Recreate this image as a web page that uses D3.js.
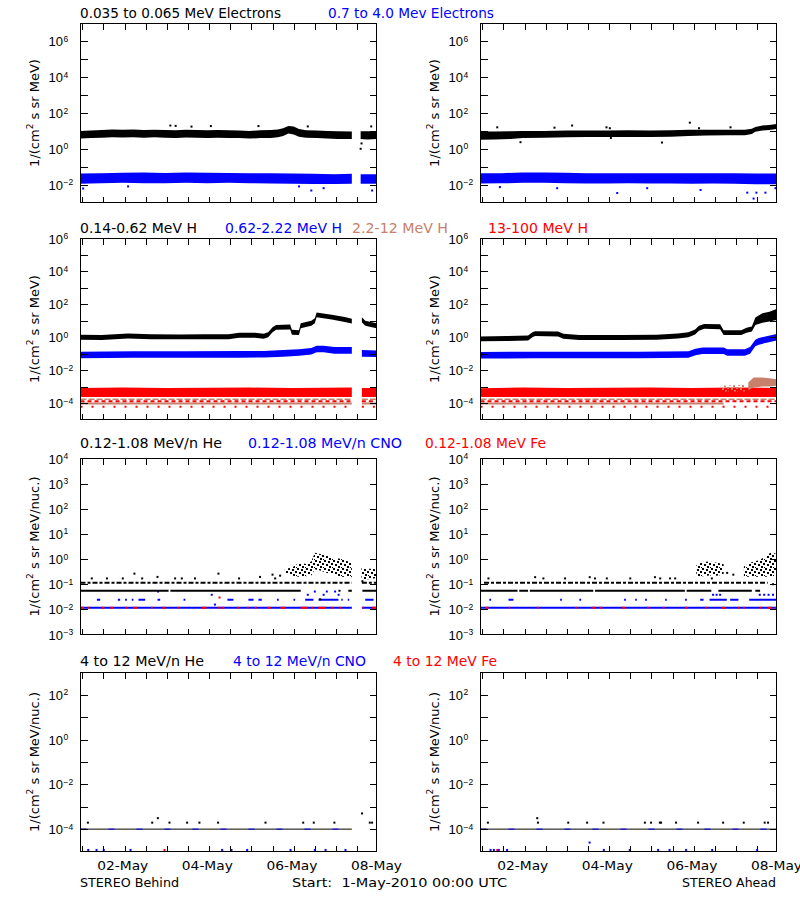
<!DOCTYPE html>
<html><head><meta charset="utf-8">
<script src="https://cdn.jsdelivr.net/npm/d3@7"></script>
<style>
body{margin:0;background:#fff}
svg{display:block}
text{font-family:"DejaVu Sans",sans-serif;white-space:pre}
.tl{font-family:"Liberation Sans",Arial,sans-serif}
</style>
</head><body><svg id="c" width="800" height="900"></svg>
<script>
// ================= DATA (hours since 1-May-2010 00:00 UTC, log10 flux) =================
const startDate = Date.UTC(2010, 4, 1);
const endDate = Date.UTC(2010, 4, 8);
const dateTickLabels = ["02-May", "04-May", "06-May", "08-May"];
const yDomains = [[-3, 7], [-5, 6], [-3, 4], [-5, 3]];
const yTickLabels = [[6, 4, 2, 0, -2], [6, 4, 2, 0, -2, -4], [4, 3, 2, 1, 0, -1, -2, -3], [2, 0, -2, -4]];
const yTitles = ["1/(cm|2| s sr MeV)", "1/(cm|2| s sr MeV)", "1/(cm|2| s sr MeV/nuc.)", "1/(cm|2| s sr MeV/nuc.)"];
const rowTitles = [
  ["0.035 to 0.065 MeV Electrons", "0.7 to 4.0 Mev Electrons"],
  ["0.14-0.62 MeV H", "0.62-2.22 MeV H", "2.2-12 MeV H", "13-100 MeV H"],
  ["0.12-1.08 MeV/n He", "0.12-1.08 MeV/n CNO", "0.12-1.08 MeV Fe"],
  ["4 to 12 MeV/n He", "4 to 12 MeV/n CNO", "4 to 12 MeV Fe"]
];
const footTexts = ["STEREO Behind", "Start:  1-May-2010 00:00 UTC", "STEREO Ahead"];

// ---- Row 1: electrons, bands [hour, low, high] ----
const eLowBehind = [[0,0.58,1.0],[6,0.6,1.02],[12,0.62,1.05],[18,0.64,1.08],[24,0.63,1.06],[30,0.64,1.08],[36,0.62,1.05],[42,0.64,1.07],[48,0.62,1.05],[54,0.6,1.04],[60,0.63,1.06],[66,0.62,1.05],[72,0.6,1.04],[78,0.62,1.05],[84,0.6,1.03],[90,0.6,1.02],[96,0.57,1.0],[102,0.6,1.03],[108,0.6,1.05],[112,0.64,1.08],[115,0.72,1.15],[118,0.86,1.28],[121,0.8,1.24],[124,0.68,1.1],[128,0.62,1.04],[134,0.6,1.02],[140,0.58,1.0],[146,0.55,0.98],[154,0.55,0.96],[154.1,null,null],[159,0.55,0.98],[163,0.52,0.98],[168,0.55,0.98]];
const eHighBehind = [[0,-1.95,-1.38],[12,-1.92,-1.36],[24,-1.9,-1.34],[36,-1.92,-1.32],[48,-1.92,-1.35],[60,-1.9,-1.33],[72,-1.92,-1.34],[84,-1.9,-1.35],[96,-1.92,-1.36],[108,-1.94,-1.36],[120,-1.95,-1.38],[132,-1.96,-1.4],[144,-1.96,-1.42],[154,-1.95,-1.4],[154.1,null,null],[159,-1.95,-1.42],[168,-1.95,-1.42]];
const eLowAhead = [[0,0.5,0.96],[8,0.52,0.96],[17,0.55,0.98],[24,0.6,1.0],[36,0.62,1.0],[49,0.64,1.02],[60,0.66,1.02],[72,0.66,1.02],[84,0.66,1.03],[96,0.66,1.02],[108,0.68,1.03],[118,0.72,1.06],[128,0.74,1.06],[140,0.76,1.07],[150,0.76,1.06],[154,0.82,1.12],[156,0.95,1.22],[160,1.02,1.3],[164,1.05,1.33],[168,1.1,1.38]];
const eHighAhead = [[0,-1.94,-1.36],[12,-1.93,-1.36],[24,-1.9,-1.32],[36,-1.9,-1.32],[48,-1.92,-1.34],[60,-1.94,-1.36],[72,-1.94,-1.36],[84,-1.93,-1.36],[96,-1.94,-1.37],[108,-1.94,-1.36],[120,-1.95,-1.37],[132,-1.94,-1.37],[144,-1.95,-1.36],[156,-1.98,-1.38],[168,-1.98,-1.38]];
const eLowOutBehind = [[51,1.3],[54,1.28],[63,1.24],[74,1.27],[101,1.27],[129,1.25],[159,0.0],[159.5,0.3],[165,1.25]];
const eHighOutBehind = [[1.5,-2.22],[27,-2.1],[124,-2.1],[131,-2.33],[138,-2.2],[165.5,-2.33]];
const eLowOutAhead = [[9.5,1.2],[22.7,0.37],[42,1.18],[52,1.3],[71.5,1.2],[73.4,1.15],[74,0.6],[103,0.35],[118.8,1.46],[124,1.15],[141.9,1.2]];
const eHighOutAhead = [[11,-2.14],[43.5,-2.2],[77.6,-2.47],[94.6,-2.2],[124.9,-2.3],[151.4,-2.45],[155,-2.78],[156.6,-2.45],[161.7,-2.45],[167.4,-2.2]];

// ---- Row 2: protons ----
const hLowBehind = [[0,-0.15,0.15],[12,-0.17,0.13],[27,-0.07,0.23],[40,-0.12,0.18],[56,-0.13,0.17],[70,-0.12,0.18],[84,-0.12,0.18],[90,-0.03,0.27],[99,-0.03,0.27],[104,-0.09,0.21],[106.5,0,0.3],[109,0.3,0.6],[111,0.45,0.75],[119,0.47,0.77],[120,0.15,0.45],[124,0.13,0.43],[125,0.55,0.85],[131,0.7,1.0],[133,0.85,1.15],[134,1.21,1.51],[142.6,1.07,1.37],[150,0.93,1.23],[154,0.83,1.13],[154.1,null,null],[159.7,0.91,1.21],[161.6,0.7,1.0],[168,0.55,0.85]];
const hMidBehind = [[0,-1.28,-0.88],[30,-1.25,-0.85],[60,-1.25,-0.85],[90,-1.24,-0.84],[104,-1.23,-0.83],[115,-1.18,-0.78],[124,-1.13,-0.73],[131,-1.05,-0.65],[134,-0.92,-0.52],[138,-0.92,-0.52],[144,-1.0,-0.6],[154,-1.0,-0.6],[154.1,null,null],[159.7,-1.18,-0.78],[168,-1.2,-0.8]];
const hHighBehind = [[0,-3.64,-3.08],[24,-3.64,-3.06],[48,-3.64,-3.08],[72,-3.64,-3.07],[96,-3.64,-3.06],[120,-3.64,-3.08],[154,-3.64,-3.06],[154.1,null,null],[159.7,-3.64,-3.08],[168,-3.64,-3.08]];
const hSienLineBehind = [[0,154,-4.03],[159.7,168,-4.03]];
const hSienDashBehind = [[0,154,-3.77],[159.7,168,-3.77]];
const hRedDashBehind = [[0,154,-3.89],[159.7,168,-3.89]];
const hRedSparseBehind = [[0,154,-4.23],[159.7,168,-4.23]];
const hLowAhead = [[0,-0.25,0.05],[15,-0.23,0.07],[27,-0.2,0.1],[29.5,0,0.3],[31,0.07,0.37],[44,0.05,0.35],[47,-0.09,0.21],[56,-0.17,0.13],[80,-0.17,0.13],[100,-0.15,0.15],[112,-0.07,0.23],[118,0,0.3],[121.8,0.17,0.47],[124,0.4,0.7],[127,0.51,0.81],[136,0.49,0.79],[138,0.13,0.43],[148,0.13,0.43],[151,0.27,0.57],[154,0.35,0.65],[156,0.75,1.2],[160,0.88,1.45],[164,0.95,1.55],[168,1.05,1.72]];
const hMidAhead = [[0,-1.3,-0.9],[30,-1.28,-0.88],[60,-1.28,-0.88],[90,-1.28,-0.88],[118,-1.25,-0.85],[122,-1.1,-0.7],[126,-1.02,-0.62],[138,-1.02,-0.62],[140,-1.13,-0.73],[150,-1.13,-0.73],[153,-1.0,-0.6],[156,-0.55,-0.15],[158,-0.45,-0.05],[163,-0.32,0.08],[168,-0.2,0.2]];
const hHighAhead = [[0,-3.64,-3.1],[24,-3.64,-3.06],[48,-3.64,-3.08],[72,-3.64,-3.07],[96,-3.64,-3.06],[120,-3.64,-3.08],[144,-3.64,-3.06],[168,-3.64,-3.08]];
const hSienSparseAhead = [[136,-3.3,-2.95],[150,-3.3,-2.9]];
const hSienDenseAhead = [[152,-3.2,-2.75],[155,-3.05,-2.45],[160,-3.0,-2.45],[164,-3.0,-2.5],[168,-2.95,-2.55]];
const hSienLineAhead = [[0,138,-4.03]];
const hSienDashAhead = [[0,168,-3.77]];
const hRedDashAhead = [[0,168,-3.89]];
const hRedSparseAhead = [[0,168,-4.23]];

// ---- Row 3: 0.12-1.08 MeV/n heavy ions ----
const heCloudBehind = [[116,-0.58,-0.38],[119,-0.58,-0.36],[121,-0.67,-0.3],[124,-0.7,-0.15],[128,-0.68,-0.2],[131,-0.65,-0.1],[133,-0.4,0.25],[136,-0.45,0.2],[140,-0.55,0.12],[144,-0.62,0.05],[148,-0.7,0.0],[154,-0.72,-0.15],[154.1,null,null],[159.5,-0.8,-0.35],[164,-0.8,-0.38],[168,-0.75,-0.4]];
const heCloudAhead = [[122.5,-0.68,-0.25],[126,-0.68,-0.12],[130,-0.65,-0.1],[134,-0.66,-0.15],[138,-0.62,-0.2],[138.1,null,null],[149.5,-0.7,-0.3],[153,-0.7,-0.15],[158,-0.7,-0.05],[162,-0.7,0.1],[165,-0.68,0.28],[168,-0.65,0.2]];
const he05Behind = [[0,50,-1.26],[51,125,-1.26],[152,154,-1.26],[160,168,-1.26]];
const he10Behind = [[0,154,-0.94],[159.7,168,-0.94]];
const he05Ahead = [[0,21,-1.26],[22,27,-1.26],[28,64,-1.26],[65,116,-1.26],[117,131,-1.26],[135,154,-1.26],[156,158.7,-1.26]];
const he10Ahead = [[2,163,-0.94]];
const heDotsBehind = [[6.4,-0.77],[15,-0.77],[24,-0.77],[30.6,-0.58],[35,-0.77],[43.7,-0.71],[53.7,-0.77],[57.5,-0.77],[65,-0.77],[78.3,-0.58],[90,-0.77],[101.9,-0.71],[109,-0.62],[110.5,-0.77],[113.3,-0.66],[136,-1.6],[147,-1.26],[160,-0.88]];
const heDotsAhead = [[4.5,-0.77],[31,-0.72],[35.7,-0.77],[48,-0.77],[62,-0.72],[65,-0.77],[71.7,-0.77],[85,-0.77],[99,-0.72],[102,-0.77],[107.6,-0.77],[110.5,-0.77],[131.3,-0.77],[140,-0.55],[143.5,-0.62],[166,-1.0]];
const cno01Behind = [[0,154,-1.94],[159.7,168,-1.94]];
const cno02Behind = [[9.3,11.2,-1.62],[21.2,22.5,-1.62],[25.3,26.3,-1.62],[29.1,30,-1.62],[32.9,36.7,-1.62],[43.7,45.2,-1.62],[58.5,59.5,-1.62],[83.4,86.8,-1.62],[95.3,98.2,-1.62],[101,102.9,-1.62],[111.5,112.5,-1.62],[120.9,121.8,-1.62],[127.5,132.2,-1.62],[135.1,146.4,-1.62],[148,148.8,-1.62],[151.7,152.5,-1.62],[161.6,166.3,-1.62]];
const cnoDotsBehind = [[44,-1.29],[74.5,-1.42],[76.3,-1.81],[129,-1.42],[133,-1.29],[138,-1.42],[139.8,-1.29],[144.5,-1.29],[146.5,-1.42]];
const fe01Behind = [[0.5,2,-1.94],[4,5,-1.94],[12,13.5,-1.94],[17,18.5,-1.94],[25.5,26.5,-1.94],[30,32,-1.94],[40,41,-1.94],[46.5,48,-1.94],[55,56,-1.94],[69,71.5,-1.94],[78,79,-1.94],[80,81.5,-1.94],[89,90,-1.94],[94.5,95.5,-1.94],[99,100,-1.94],[106,108,-1.94],[113.5,116.5,-1.94],[125,129,-1.94],[131,132,-1.94],[135,139,-1.94],[142.5,143.5,-1.94],[147,148,-1.94],[160,161,-1.94],[165.5,168,-1.94]];
const feDotsBehind = [[78.9,-1.53]];
const cno01Ahead = [[0,168,-1.94]];
const cno02Ahead = [[5,6,-1.62],[15.9,18.7,-1.62],[45.2,46.2,-1.62],[56.1,57.1,-1.62],[81.5,82.5,-1.62],[87.8,88.7,-1.62],[93.4,94.4,-1.62],[104.8,105.7,-1.62],[116.1,117.1,-1.62],[124.7,126.6,-1.62],[130,139.8,-1.62],[141.7,146.4,-1.62],[152.5,168,-1.62]];
const cnoDotsAhead = [[132,-1.42],[134,-1.42],[136,-1.42],[158.5,-1.42],[161,-1.42],[163.5,-1.42],[166,-1.42]];
const fe01Ahead = [[2.7,4.5,-1.94],[15.9,16.8,-1.94],[32,33,-1.94],[53.8,54.7,-1.94],[63.5,65,-1.94],[67.5,69,-1.94],[80.5,82,-1.94],[94.5,95.5,-1.94],[103.5,104.5,-1.94],[116,117.5,-1.94],[127.5,128.5,-1.94],[137,139,-1.94],[146,147,-1.94],[149,150,-1.94],[158.5,159.5,-1.94],[163,165.5,-1.94],[167,168,-1.94]];

// ---- Row 4: 4-12 MeV/n heavy ions ----
const bg4Behind = [[0,154,-4]];
const bg4Ahead = [[0,168,-4]];
const he4Behind = [[4.2,-3.71],[40.7,-3.71],[43.9,-3.51],[50.5,-3.71],[60.5,-3.71],[67.5,-3.71],[78.1,-3.71],[105,-3.71],[126.4,-3.71],[132.4,-3.71],[144.1,-3.71],[159.8,-3.3],[164.2,-3.71],[165.5,-3.71]];
const cno4Behind = [[4.4,-4.93],[9.1,-4.93],[13.2,-4.93],[28.4,-4.93],[80.4,-4.93],[85.7,-4.93],[94.6,-4.93],[119.2,-4.93],[133,-4.93],[139.1,-4.93],[150.4,-4.93]];
const fe4Behind = [[47.7,-4.93]];
const he4Ahead = [[4.2,-3.71],[32.2,-3.51],[32.6,-3.71],[49.8,-3.71],[60.5,-3.71],[69.8,-3.71],[93.3,-3.71],[96.8,-3.71],[101.8,-3.71],[102.5,-3.71],[111,-3.71],[123.5,-3.71],[137.7,-3.71],[149.4,-3.71],[161.3,-3.71],[163.2,-3.71]];
const cno4Ahead = [[5.7,-4.93],[7.6,-4.93],[10.4,-4.93],[15.1,-4.93],[61.9,-4.6],[70,-4.93],[84.7,-4.93],[100.8,-4.93],[107.3,-4.93],[116.7,-4.93],[131.5,-4.93],[157,-4.93]];
const fe4Ahead = [[9.5,-4.93]];

// ================= DRAWING =================
const BLACK = "#000000", BLUE = "#0000ff", RED = "#ff0000", SIENNA = "#c8806a";
const svg = d3.select("#c");
const colX = [80, 480];
const plotW = 296;
const rowBox = [[23.5, 202.5], [238.5, 419.5], [458.5, 634.5], [672.5, 851.5]];

const defs = svg.append("defs");
[["k", BLACK], ["s", SIENNA]].forEach(([id, col]) => {
  const p = defs.append("pattern").attr("id", "dots-" + id).attr("width", 9).attr("height", 8)
    .attr("patternUnits", "userSpaceOnUse");
  [[0,0],[4,1],[7,3],[2,4],[5,6],[8,7]].forEach(([a, b]) =>
    p.append("rect").attr("x", a).attr("y", b).attr("width", 2).attr("height", 2).attr("fill", col));
});

const H = h => new Date(startDate + h * 3600000);

function makePanel(row, col) {
  const x0 = colX[col], [yTop, yBot] = rowBox[row];
  const x = d3.scaleUtc().domain([new Date(startDate), new Date(endDate)]).range([x0 + 0.5, x0 + plotW + 0.5]);
  const y = d3.scaleLog().domain([10 ** yDomains[row][0], 10 ** yDomains[row][1]]).range([yBot, yTop]);
  const g = svg.append("g");
  const cid = "clip" + row + col;
  defs.append("clipPath").attr("id", cid).append("rect")
    .attr("x", x0 + 0.5).attr("y", yTop).attr("width", plotW).attr("height", yBot - yTop);
  const data = g.append("g").attr("clip-path", `url(#${cid})`);
  return { x, y, g, data, x0, yTop, yBot, row, col };
}

function band(P, arr, fill) {
  const area = d3.area().defined(d => d[1] != null)
    .x(d => P.x(H(d[0]))).y0(d => P.y(10 ** d[1])).y1(d => P.y(10 ** d[2]));
  P.data.append("path").datum(arr).attr("d", area).attr("fill", fill).attr("stroke", "none");
}
function segs(P, arr, color, width, dash) {
  P.data.selectAll(null).data(arr).enter().append("line")
    .attr("x1", d => P.x(H(d[0]))).attr("x2", d => P.x(H(d[1])))
    .attr("y1", d => P.y(10 ** d[2])).attr("y2", d => P.y(10 ** d[2]))
    .attr("stroke", color).attr("stroke-width", width)
    .attr("stroke-dasharray", dash || null);
}
function pts(P, arr, color, s) {
  s = s || 2;
  P.data.selectAll(null).data(arr).enter().append("rect")
    .attr("x", d => P.x(H(d[0])) - s / 2).attr("y", d => P.y(10 ** d[1]) - s / 2)
    .attr("width", s).attr("height", s).attr("fill", color);
}

function axes(P) {
  const { x, y, g, x0, yTop, yBot, row } = P;
  g.append("rect").attr("x", x0 + 0.5).attr("y", yTop).attr("width", plotW).attr("height", yBot - yTop)
    .attr("fill", "none").attr("stroke", BLACK).attr("stroke-width", 1);
  const xt = d3.utcHours(new Date(startDate + 3600000), new Date(endDate), 12);
  const decs = d3.range(yDomains[row][0] + 1, yDomains[row][1]).map(e => 10 ** e);
  const ax = [
    d3.axisBottom(x).tickValues(xt).tickSize(-6).tickFormat(""),
    d3.axisTop(x).tickValues(xt).tickSize(-6).tickFormat(""),
    d3.axisLeft(y).tickValues(decs).tickSize(-7).tickFormat(""),
    d3.axisRight(y).tickValues(decs).tickSize(-7).tickFormat("")
  ];
  const tr = [`translate(0,${yBot})`, `translate(0,${yTop})`, `translate(${x0 + 0.5},0)`, `translate(${x0 + plotW + 0.5},0)`];
  ax.forEach((a, i) => {
    const s = g.append("g").attr("transform", tr[i]).call(a);
    s.select(".domain").remove();
    s.selectAll("line").attr("stroke", BLACK).attr("shape-rendering", "crispEdges");
  });
  // y tick labels 10^n
  yTickLabels[row].forEach(e => {
    const yy = y(10 ** e);
    g.append("text").attr("class", "tl").attr("x", x0 - 17).attr("y", yy + 5)
      .attr("text-anchor", "end").attr("font-size", 13).text("10");
    g.append("text").attr("class", "tl").attr("x", x0 - 16.5).attr("y", yy + 0.5)
      .attr("font-size", 8.5).text(e < 0 ? "\u2212" + (-e) : String(e));
  });
  // y title
  const parts = yTitles[row].split("|");
  const t = g.append("text").attr("transform", `translate(${x0 - 41},${(yTop + yBot) / 2}) rotate(-90)`)
    .attr("text-anchor", "middle").attr("font-size", 13);
  t.append("tspan").text(parts[0]);
  t.append("tspan").attr("font-size", 9).attr("dy", -6).text(parts[1]);
  t.append("tspan").attr("dy", 6).text(parts[2]);
  // date labels on the bottom row
  if (row === 3) {
    d3.utcDays(new Date(startDate + 86400000), new Date(endDate + 1), 2).forEach((d, i) => {
      g.append("text").attr("x", x(d)).attr("y", 869.5).attr("text-anchor", "middle")
        .attr("font-size", 13).attr("textLength", 51).attr("lengthAdjust", "spacingAndGlyphs")
        .text(dateTickLabels[i]);
    });
  }
}

const P = {};
for (let r = 0; r < 4; r++) for (let c = 0; c < 2; c++) P[r + "" + c] = makePanel(r, c);

// Row 1
band(P["00"], eLowBehind, BLACK); band(P["00"], eHighBehind, BLUE);
pts(P["00"], eLowOutBehind, BLACK); pts(P["00"], eHighOutBehind, BLUE);
band(P["01"], eLowAhead, BLACK); band(P["01"], eHighAhead, BLUE);
pts(P["01"], eLowOutAhead, BLACK); pts(P["01"], eHighOutAhead, BLUE);

// Row 2
segs(P["10"], hSienLineBehind, SIENNA, 2);
segs(P["10"], hRedSparseBehind, RED, 2, "2 9");
segs(P["10"], hRedDashBehind, RED, 2, "4 3");
segs(P["10"], hSienDashBehind, SIENNA, 1.5, "6 2");
band(P["10"], hHighBehind, RED);
band(P["10"], hMidBehind, BLUE); band(P["10"], hLowBehind, BLACK);
segs(P["11"], hSienLineAhead, SIENNA, 2);
segs(P["11"], hRedSparseAhead, RED, 2, "2 9");
segs(P["11"], hRedDashAhead, RED, 2, "4 3");
segs(P["11"], hSienDashAhead, SIENNA, 1.5, "6 2");
band(P["11"], hHighAhead, RED);
band(P["11"], hSienSparseAhead, "url(#dots-s)");
band(P["11"], hSienDenseAhead, SIENNA);
band(P["11"], hMidAhead, BLUE); band(P["11"], hLowAhead, BLACK);

// Row 3
segs(P["20"], cno01Behind, BLUE, 2); segs(P["20"], fe01Behind, RED, 2);
segs(P["20"], cno02Behind, BLUE, 2); pts(P["20"], cnoDotsBehind, BLUE); pts(P["20"], feDotsBehind, RED);
segs(P["20"], he05Behind, BLACK, 2); segs(P["20"], he10Behind, BLACK, 2, "5 2 3 2");
pts(P["20"], heDotsBehind, BLACK); band(P["20"], heCloudBehind, "url(#dots-k)");
segs(P["21"], cno01Ahead, BLUE, 2); segs(P["21"], fe01Ahead, RED, 2);
segs(P["21"], cno02Ahead, BLUE, 2); pts(P["21"], cnoDotsAhead, BLUE);
segs(P["21"], he05Ahead, BLACK, 2); segs(P["21"], he10Ahead, BLACK, 2, "5 2 3 2");
pts(P["21"], heDotsAhead, BLACK); band(P["21"], heCloudAhead, "url(#dots-k)");

// Row 4
segs(P["30"], bg4Behind, BLACK, 1); segs(P["30"], bg4Behind, BLUE, 1, "6 22");
pts(P["30"], he4Behind, BLACK); pts(P["30"], cno4Behind, BLUE); pts(P["30"], fe4Behind, RED);
segs(P["31"], bg4Ahead, BLACK, 1); segs(P["31"], bg4Ahead, BLUE, 1, "6 22");
pts(P["31"], he4Ahead, BLACK); pts(P["31"], cno4Ahead, BLUE); pts(P["31"], fe4Ahead, RED);

Object.values(P).forEach(axes);

// Titles: [x, baseline y, colour, width]
const titleSpec = [
  [[80, 18, BLACK, 201], [328, 18, BLUE, 166]],
  [[80, 233, BLACK, 117], [225, 233, BLUE, 117], [352, 233, SIENNA, 96], [488, 233, RED, 100]],
  [[80, 448, BLACK, 142], [248, 448, BLUE, 154], [425, 448, RED, 121]],
  [[80, 666, BLACK, 124], [233, 666, BLUE, 133], [393, 666, RED, 104]]
];
rowTitles.forEach((list, r) => list.forEach((txt, i) => {
  const [tx, ty, col, w] = titleSpec[r][i];
  svg.append("text").attr("x", tx).attr("y", ty).attr("font-size", 13.5).attr("fill", col)
    .attr("textLength", w).attr("lengthAdjust", "spacingAndGlyphs").text(txt);
}));
// Footer
svg.append("text").attr("x", 80).attr("y", 886.5).attr("font-size", 13)
  .attr("textLength", 99).attr("lengthAdjust", "spacingAndGlyphs").text(footTexts[0]);
svg.append("text").attr("x", 292).attr("y", 886.5).attr("font-size", 13)
  .attr("textLength", 215).attr("lengthAdjust", "spacingAndGlyphs").text(footTexts[1]);
svg.append("text").attr("x", 682).attr("y", 886.5).attr("font-size", 13)
  .attr("textLength", 94).attr("lengthAdjust", "spacingAndGlyphs").text(footTexts[2]);
</script>
</body></html>
